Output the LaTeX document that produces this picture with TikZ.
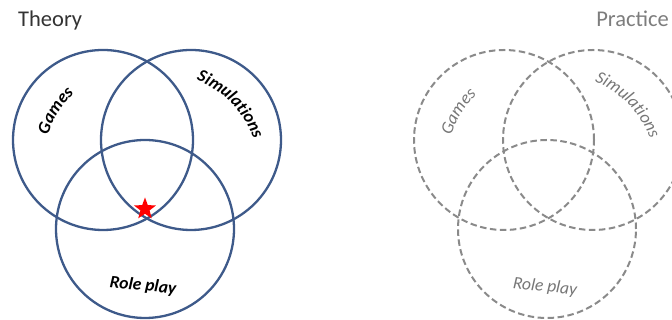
\documentclass[tikz,border=0pt]{standalone}
\usepackage{fontspec}
\setmainfont{Carlito}
\usetikzlibrary{shapes.geometric,decorations.text}
\definecolor{vennblue}{RGB}{62,90,138}
\definecolor{venngray}{RGB}{138,138,138}
\definecolor{labelgray}{RGB}{118,118,118}
\definecolor{titlegray}{RGB}{125,125,125}
\newcommand{\labfontB}{\fontsize{17.5}{20}\selectfont\bfseries\itshape}
\newcommand{\labfontR}{\fontsize{17.5}{20}\selectfont\itshape}
% #1 = x, #2 = y (visual centre of text), #3 = baseline angle, #4 = curvature radius, #5 = half sweep, #6 = formatted text
\newcommand{\arclabel}[6]{%
  \path[decorate, decoration={text along path, text align=center, text={#6}}]
    (#1,#2) ++({#3-90}:{5+#4}) ++({#3+90+#5}:#4)
    arc[start angle={#3+90+#5}, end angle={#3+90-#5}, radius=#4];}
\tikzset{
  theorycircle/.style={draw=vennblue, line width=2.3pt},
  practicecircle/.style={draw=venngray, line width=2pt, dash pattern=on 6.5pt off 3.5pt},
  theorylabel/.style={font=\labfontB, text=black, inner sep=0pt},
  practicelabel/.style={font=\labfontR, text=labelgray, inner sep=0pt},
  titletext/.style={font=\fontsize{22.5}{26}\selectfont, inner sep=0pt},
}
\begin{document}
\begin{tikzpicture}[x=1pt,y=1pt]
\useasboundingbox (0,0) rectangle (672,320);
\begin{scope}
\clip (0,0) rectangle (672,320);
% Theory
\node[titletext, anchor=base west, text=black!80] (theory) at (18,293) {Theory};
\draw[theorycircle] (103,180) circle[radius=90];
\draw[theorycircle] (191,180) circle[radius=90];
\draw[theorycircle] (145,91) circle[radius=89];
\arclabel{54}{210}{58}{90}{30}{|\labfontB\color{black}|Games}
\arclabel{235}{220}{-46}{100}{40}{|\labfontB\color{black}|Simulations}
\node[theorylabel, rotate=-6] (trole) at (143,34) {Role play};
\node[star, star points=5, star point ratio=2.4, fill=red, draw=none, minimum size=23pt, inner sep=0pt] (star) at (145,111) {};
% Practice
\node[titletext, anchor=base east, text=titlegray] (practice) at (669,293) {Practice};
\draw[practicecircle] (504,180) circle[radius=90];
\draw[practicecircle] (593,180) circle[radius=90];
\draw[practicecircle] (547,91) circle[radius=89];
\arclabel{457}{209}{58}{90}{30}{|\labfontR\color{labelgray}|Games}
\arclabel{632}{219}{-46}{100}{40}{|\labfontR\color{labelgray}|Simulations}
\node[practicelabel, rotate=-6] (prole) at (545,33) {Role play};
\end{scope}
\end{tikzpicture}
\end{document}
